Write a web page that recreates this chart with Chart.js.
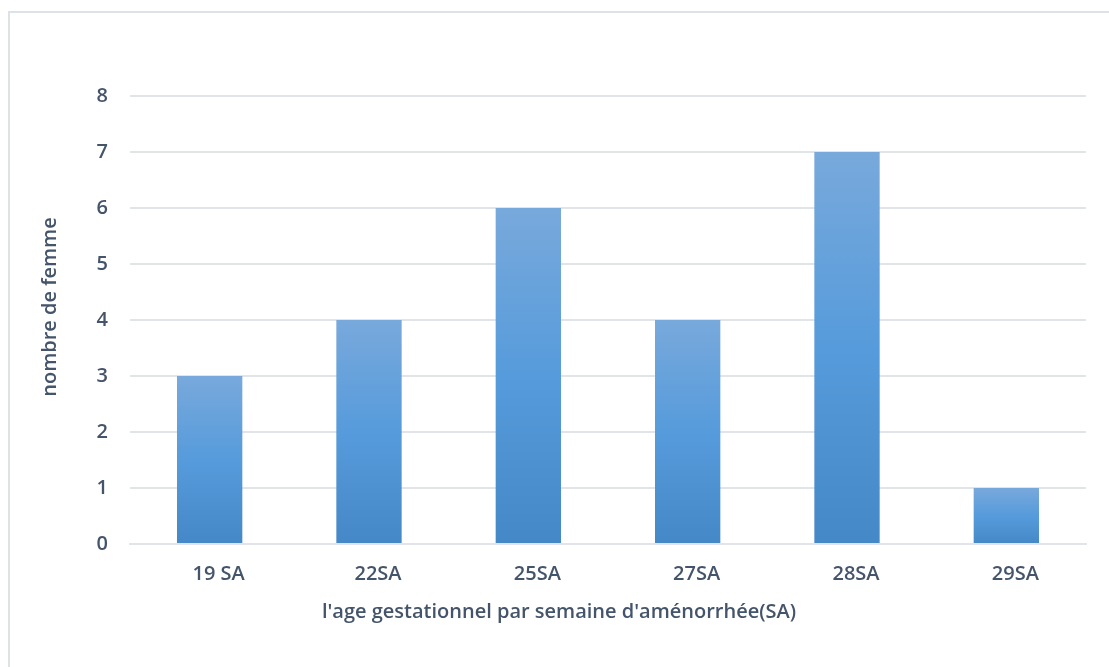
<!DOCTYPE html>
<html>
<head>
<meta charset="utf-8">
<script src="https://cdn.jsdelivr.net/npm/chart.js@4/dist/chart.umd.min.js"></script>
<style>
  html, body { margin: 0; padding: 0; background: #ffffff; }
  #wrap { position: relative; width: 1109px; height: 667px; }
</style>
</head>
<body>
<div id="wrap"><canvas id="c" width="1109" height="667"></canvas></div>
<script>
// Gestational age groups and number of women in each
const categories = ['19 SA', '22SA', '25SA', '27SA', '28SA', '29SA'];
const counts = [3, 4, 6, 4, 7, 1];
const yTicks = [0, 1, 2, 3, 4, 5, 6, 7, 8];
const xTitle = "l'age gestationnel par semaine d'aménorrhée(SA)";
const yTitle = 'nombre de femme';

const TEXT = '#44546a';
const FONT = "'Open Sans', 'Noto Sans', sans-serif";
const FONT_SIZE = 20;
const FONT_WEIGHT = 600;

// Per-bar vertical gradient: lighter at the top, deeper at the base
function barGradient(ctx) {
  const chart = ctx.chart;
  const area = chart.chartArea;
  if (!area || ctx.parsed == null) return '#5b9bd5';
  const y = chart.scales.y;
  const top = y.getPixelForValue(ctx.parsed.y);
  const base = y.getPixelForValue(0);
  if (!isFinite(top) || top === base) return '#5b9bd5';
  const g = chart.ctx.createLinearGradient(0, top, 0, base);
  g.addColorStop(0, '#78a9dc');
  g.addColorStop(0.5, '#569bdb');
  g.addColorStop(1, '#4588c8');
  return g;
}

// Thin frame along the left and top edges; axis titles centred on the frame
const framePlugin = {
  id: 'frame',
  beforeDraw(chart) {
    const c = chart.ctx;
    c.save();
    c.fillStyle = '#ffffff';
    c.fillRect(0, 0, chart.width, chart.height);
    c.strokeStyle = '#dde2e8';
    c.lineWidth = 2;
    c.beginPath();
    c.moveTo(9, chart.height);
    c.lineTo(9, 12);
    c.lineTo(chart.width, 12);
    c.stroke();
    c.restore();
  },
  afterDraw(chart) {
    const c = chart.ctx;
    c.save();
    c.fillStyle = TEXT;
    c.font = FONT_WEIGHT + ' ' + FONT_SIZE + 'px ' + FONT;
    c.textAlign = 'center';
    c.textBaseline = 'middle';
    c.fillText(xTitle, (9 + chart.width) / 2, 612);
    c.translate(50, 307);
    c.rotate(-Math.PI / 2);
    c.fillText(yTitle, 0, 0);
    c.restore();
  }
};

new Chart(document.getElementById('c'), {
  type: 'bar',
  data: {
    labels: categories,
    datasets: [{
      data: counts,
      backgroundColor: barGradient,
      borderWidth: 0,
      categoryPercentage: 1,
      barPercentage: 0.41
    }]
  },
  options: {
    responsive: false,
    devicePixelRatio: 1,
    animation: false,
    layout: { padding: { top: 96, right: 23, bottom: 0, left: 0 } },
    plugins: {
      legend: { display: false },
      tooltip: { enabled: false }
    },
    scales: {
      x: {
        grid: { display: false, drawTicks: false },
        border: { display: true, color: '#e1e5ea', width: 2 },
        ticks: {
          color: TEXT,
          font: { family: FONT, size: FONT_SIZE, weight: FONT_WEIGHT },
          padding: 18,
          labelOffset: 9
        },
        title: { display: false },
        afterFit(scale) { scale.height = 123; }
      },
      y: {
        min: 0,
        max: 8,
        afterBuildTicks(scale) { scale.ticks = yTicks.map(v => ({ value: v })); },
        grid: { color: '#e1e5ea', lineWidth: 2, drawTicks: false },
        border: { display: false },
        ticks: { color: TEXT, font: { family: FONT, size: FONT_SIZE, weight: FONT_WEIGHT }, padding: 22 },
        title: { display: false },
        afterFit(scale) { scale.width = 130; }
      }
    }
  },
  plugins: [framePlugin]
});
</script>
</body>
</html>
